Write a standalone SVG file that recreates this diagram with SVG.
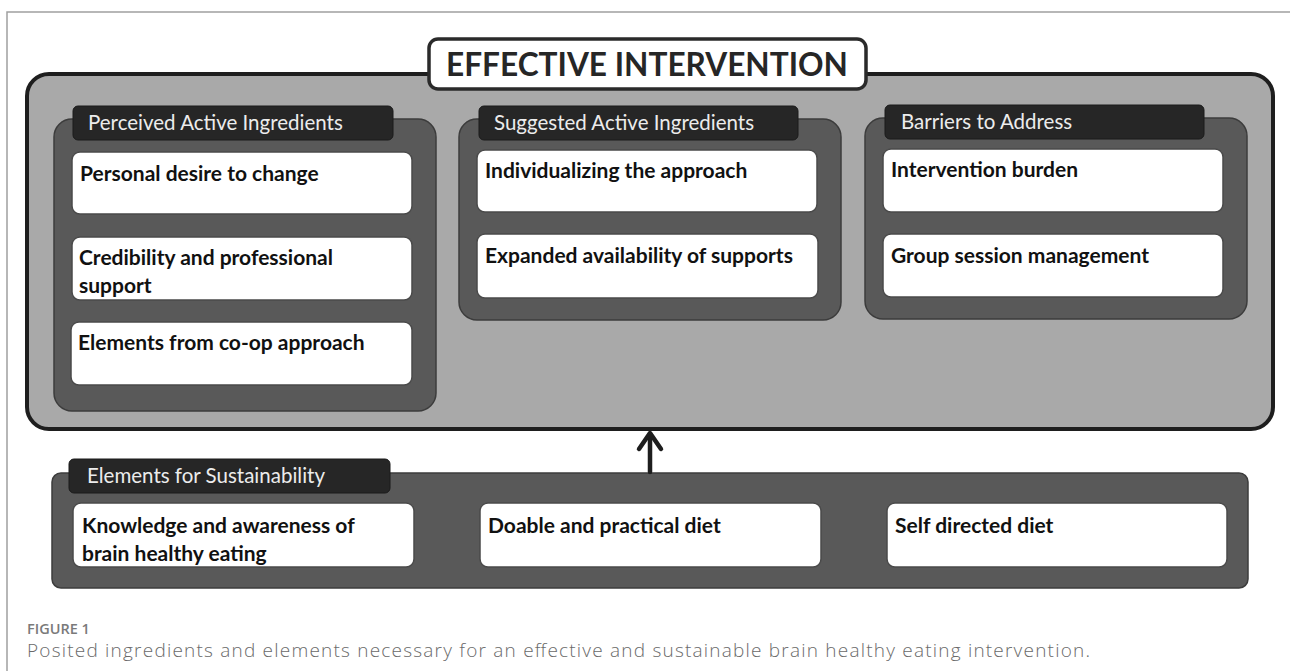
<svg xmlns="http://www.w3.org/2000/svg" width="1290" height="671" viewBox="0 0 1290 671">
  <style>
    .frame { fill: none; stroke: #a0a0a0; stroke-width: 1.5; }
    .main { fill: #a9a9a9; stroke: #1e1e1e; stroke-width: 4; }
    .title-box { fill: #ffffff; stroke: #2a2a2a; stroke-width: 3.5; }
    .title { font-family: Lato, "Liberation Sans", sans-serif; font-weight: 700; font-size: 33px; fill: #262626; }
    .panel { fill: #595959; stroke: #3c3c3c; stroke-width: 1.5; }
    .tab { fill: #262626; stroke: #1a1a1a; stroke-width: 1; }
    .tab-text { font-family: Lato, "Liberation Sans", sans-serif; font-size: 20.5px; fill: #ececec; }
    .card { fill: #ffffff; stroke: #4a4a4a; stroke-width: 1.5; }
    .card-text { font-family: Lato, "Liberation Sans", sans-serif; font-weight: 700; font-size: 21px; fill: #111111; }
    .conn { fill: none; stroke: #1e1e1e; stroke-width: 4.5; stroke-linecap: round; stroke-linejoin: round; }
    .cap-label { font-family: "Open Sans", "Liberation Sans", sans-serif; font-weight: 600; font-size: 14.5px; fill: #7a7a7a; }
    .cap-text { font-family: "Open Sans", "Liberation Sans", sans-serif; font-weight: 300; font-size: 19px; fill: #6a6a6a; }
  </style>

  <!-- page frame -->
  <path class="frame" d="M7,671 V12 H1290"/>

  <!-- main container -->
  <g id="effective-intervention">
    <rect class="main" x="27" y="74" width="1246" height="355" rx="22" ry="22"/>
    <rect class="title-box" x="429" y="39" width="437" height="50" rx="9" ry="9"/>
    <text class="title" x="647" y="76" text-anchor="middle" textLength="402" lengthAdjust="spacingAndGlyphs">EFFECTIVE INTERVENTION</text>
  </g>

  <!-- Perceived Active Ingredients -->
  <g id="perceived-active-ingredients">
    <rect class="panel" x="54" y="119" width="382" height="292" rx="18" ry="18"/>
    <rect class="tab" x="73" y="106" width="320" height="34" rx="5" ry="5"/>
    <text class="tab-text" x="88" y="130">Perceived Active Ingredients</text>
  </g>
  <g id="personal-desire">
    <rect class="card" x="72" y="152" width="340" height="62" rx="8" ry="8"/>
    <text class="card-text" x="80" y="181">Personal desire to change</text>
  </g>
  <g id="credibility">
    <rect class="card" x="72" y="237" width="340" height="63" rx="8" ry="8"/>
    <text class="card-text" x="79" y="265">Credibility and professional</text>
    <text class="card-text" x="79" y="293">support</text>
  </g>
  <g id="co-op-elements">
    <rect class="card" x="71" y="322" width="341" height="63" rx="8" ry="8"/>
    <text class="card-text" x="78" y="350">Elements from co-op approach</text>
  </g>

  <!-- Suggested Active Ingredients -->
  <g id="suggested-active-ingredients">
    <rect class="panel" x="459" y="119" width="382" height="201" rx="18" ry="18"/>
    <rect class="tab" x="479" y="106" width="319" height="34" rx="5" ry="5"/>
    <text class="tab-text" x="494" y="130">Suggested Active Ingredients</text>
  </g>
  <g id="individualizing">
    <rect class="card" x="477" y="150" width="340" height="62" rx="8" ry="8"/>
    <text class="card-text" x="485" y="178">Individualizing the approach</text>
  </g>
  <g id="expanded-availability">
    <rect class="card" x="477" y="234" width="341" height="64" rx="8" ry="8"/>
    <text class="card-text" x="485" y="263">Expanded availability of supports</text>
  </g>

  <!-- Barriers to Address -->
  <g id="barriers-to-address">
    <rect class="panel" x="865" y="118" width="382" height="201" rx="18" ry="18"/>
    <rect class="tab" x="885" y="105" width="319" height="34" rx="5" ry="5"/>
    <text class="tab-text" x="901" y="129">Barriers to Address</text>
  </g>
  <g id="intervention-burden">
    <rect class="card" x="883" y="149" width="340" height="63" rx="8" ry="8"/>
    <text class="card-text" x="891" y="177">Intervention burden</text>
  </g>
  <g id="group-session">
    <rect class="card" x="883" y="234" width="340" height="63" rx="8" ry="8"/>
    <text class="card-text" x="891" y="263">Group session management</text>
  </g>

  <!-- Elements for Sustainability -->
  <g id="elements-for-sustainability">
    <rect class="panel" x="52" y="473" width="1196" height="115" rx="9" ry="9"/>
    <rect class="tab" x="69" y="459" width="321" height="34" rx="5" ry="5"/>
    <text class="tab-text" x="87" y="483">Elements for Sustainability</text>
  </g>
  <g id="knowledge-awareness">
    <rect class="card" x="73" y="503" width="341" height="64" rx="8" ry="8"/>
    <text class="card-text" x="82" y="533">Knowledge and awareness of</text>
    <text class="card-text" x="82" y="561">brain healthy eating</text>
  </g>
  <g id="doable-practical">
    <rect class="card" x="480" y="503" width="341" height="64" rx="8" ry="8"/>
    <text class="card-text" x="488" y="533">Doable and practical diet</text>
  </g>
  <g id="self-directed">
    <rect class="card" x="887" y="503" width="340" height="64" rx="8" ry="8"/>
    <text class="card-text" x="895" y="533">Self directed diet</text>
  </g>

  <!-- connectors -->
  <g id="connectors">
    <path class="conn" d="M650,472 V434"/>
    <path class="conn" d="M639,449 L650,433 L661,449"/>
  </g>

  <!-- caption -->
  <text class="cap-label" x="27" y="634">FIGURE 1</text>
  <text class="cap-text" x="27" y="657" textLength="1063" lengthAdjust="spacing">Posited ingredients and elements necessary for an effective and sustainable brain healthy eating intervention.</text>
</svg>
